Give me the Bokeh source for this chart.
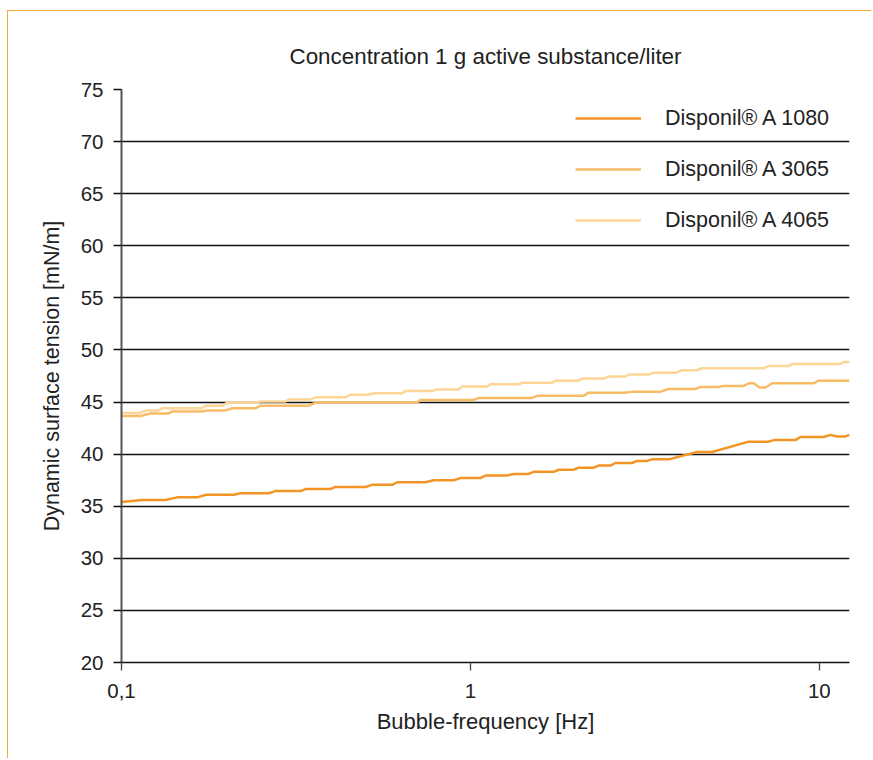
from bokeh.plotting import figure
from bokeh.models import FixedTicker, Legend, LegendItem, Title
from bokeh.embed import file_html
from bokeh.resources import INLINE

# ---- data ----
title_text = "Concentration 1 g active substance/liter"
x_label = "Bubble-frequency [Hz]"
y_label = "Dynamic surface tension [mN/m]"
series_names = ["Disponil® A 1080", "Disponil® A 3065", "Disponil® A 4065"]
series_colors = ["#F39426", "#F8BB66", "#FCD597"]

freq_1080 = [0.1, 0.1146, 0.1337, 0.1444, 0.1648, 0.1748, 0.2099, 0.2193, 0.2643, 0.2762,
             0.3258, 0.3367, 0.3971, 0.4104, 0.5, 0.5226, 0.5966, 0.6166, 0.7430, 0.7847,
             0.8955, 0.9361, 1.068, 1.104, 1.274, 1.331, 1.469, 1.518, 1.733, 1.791,
             1.977, 2.043, 2.256, 2.331, 2.518, 2.603, 2.906, 3.004, 3.208, 3.316,
             3.700, 4.463, 4.926, 6.272, 7.157, 7.398, 8.536, 8.823, 10.29, 10.75,
             11.24, 11.87, 12.21]
tension_1080 = [35.4, 35.6, 35.6, 35.85, 35.85, 36.1, 36.1, 36.25, 36.25, 36.45,
                36.45, 36.65, 36.65, 36.85, 36.85, 37.05, 37.05, 37.3, 37.3, 37.5,
                37.5, 37.7, 37.7, 37.95, 37.95, 38.1, 38.1, 38.3, 38.3, 38.5,
                38.5, 38.7, 38.7, 38.9, 38.9, 39.15, 39.15, 39.35, 39.35, 39.5,
                39.5, 40.2, 40.2, 41.2, 41.2, 41.35, 41.35, 41.65, 41.65, 41.85,
                41.7, 41.7, 41.85]

freq_3065 = [0.1, 0.1133, 0.1211, 0.1366, 0.1397, 0.1703, 0.1760, 0.1986, 0.2076, 0.2421,
             0.2502, 0.3441, 0.3596, 0.7037, 0.7191, 1.022, 1.056, 1.502, 1.553, 2.112,
             2.183, 2.750, 2.937, 3.503, 3.700, 4.413, 4.560, 5.146, 5.318, 6.069,
             6.272, 6.482, 6.744, 7.004, 7.320, 9.632, 9.955, 12.21]
tension_3065 = [43.65, 43.65, 43.9, 43.9, 44.1, 44.1, 44.2, 44.2, 44.4, 44.4,
                44.65, 44.65, 44.95, 44.95, 45.2, 45.2, 45.4, 45.4, 45.6, 45.6,
                45.9, 45.9, 46.0, 46.0, 46.25, 46.25, 46.45, 46.45, 46.55, 46.55,
                46.8, 46.8, 46.4, 46.4, 46.8, 46.8, 47.05, 47.05]

freq_4065 = [0.1, 0.1121, 0.1185, 0.1279, 0.1308, 0.1703, 0.1741, 0.1943, 0.2009, 0.2421,
             0.2502, 0.2951, 0.3016, 0.3479, 0.3596, 0.4384, 0.4531, 0.5058, 0.5342, 0.6372,
             0.6512, 0.7766, 0.8027, 0.9258, 0.9467, 1.116, 1.141, 1.375, 1.406, 1.714,
             1.752, 2.043, 2.090, 2.409, 2.490, 2.781, 2.842, 3.242, 3.351, 3.867,
             4.042, 4.463, 4.612, 6.925, 7.157, 8.166, 8.352, 11.49, 11.74, 12.21]
tension_4065 = [43.95, 43.95, 44.2, 44.2, 44.4, 44.4, 44.65, 44.65, 44.95, 44.95,
                45.05, 45.05, 45.25, 45.25, 45.45, 45.45, 45.7, 45.7, 45.85, 45.85,
                46.05, 46.05, 46.2, 46.2, 46.5, 46.5, 46.7, 46.7, 46.85, 46.85,
                47.05, 47.05, 47.25, 47.25, 47.45, 47.45, 47.65, 47.65, 47.8, 47.8,
                48.05, 48.05, 48.25, 48.25, 48.45, 48.45, 48.65, 48.65, 48.85, 48.85]

x_ticks = [0.1, 1, 10]
x_tick_labels = {0.1: "0,1", 1: "1", 10: "10"}
y_ticks = [20, 25, 30, 35, 40, 45, 50, 55, 60, 65, 70, 75]

FONT = "Liberation Sans"
TEXT = "#222222"

p = figure(width=864, height=748, x_axis_type="log",
           x_range=(0.1, 12.2), y_range=(20, 75),
           output_backend="svg", toolbar_location=None,
           min_border_left=113, min_border_right=23,
           min_border_top=78, min_border_bottom=97)
p.title = Title(text=title_text, align="center", text_font=FONT,
                text_font_size="22.4px", text_font_style="normal",
                text_color=TEXT, standoff=42)
p.outline_line_color = None
p.background_fill_color = "white"
p.border_fill_color = "white"
# orange page frame (top and left edges)
p.styles = {"margin-left": "7px", "margin-top": "10px",
            "border-top": "1.5px solid #F7A535", "border-left": "1.5px solid #F7A535"}

# grid
p.xgrid.grid_line_color = None
p.ygrid.grid_line_color = "#111111"
p.ygrid.grid_line_width = 1.3
p.ygrid.ticker = FixedTicker(ticks=y_ticks)

# axes
p.xaxis.ticker = FixedTicker(ticks=x_ticks, minor_ticks=[])
p.xaxis.major_label_overrides = x_tick_labels
p.xaxis.axis_line_color = "#111111"
p.xaxis.axis_line_width = 1.3
p.xaxis.major_tick_line_color = "#444444"
p.xaxis.major_tick_line_width = 1.3
p.xaxis.major_tick_out = 8
p.xaxis.major_tick_in = 0
p.xaxis.minor_tick_line_color = None
p.xaxis.major_label_standoff = 13

p.yaxis.ticker = FixedTicker(ticks=y_ticks, minor_ticks=[])
p.yaxis.axis_line_color = "#555555"
p.yaxis.axis_line_width = 2
p.yaxis.major_tick_line_color = "#111111"
p.yaxis.major_tick_line_width = 1.3
p.yaxis.major_tick_out = 8
p.yaxis.major_tick_in = 0
p.yaxis.minor_tick_line_color = None
p.yaxis.major_label_standoff = 10

for ax in (p.xaxis[0], p.yaxis[0]):
    ax.major_label_text_font = FONT
    ax.major_label_text_font_size = "20.5px"
    ax.major_label_text_color = TEXT
    ax.axis_label_text_font = FONT
    ax.axis_label_text_font_style = "normal"
    ax.axis_label_text_color = TEXT

p.xaxis.axis_label = x_label
p.xaxis.axis_label_text_font_size = "22px"
p.xaxis.axis_label_standoff = 8
p.yaxis.axis_label = y_label
p.yaxis.axis_label_text_font_size = "21.5px"
p.yaxis.axis_label_standoff = 14

# lines
r1 = p.line(freq_1080, tension_1080, line_color=series_colors[0], line_width=2.5)
r2 = p.line(freq_3065, tension_3065, line_color=series_colors[1], line_width=2.5)
r3 = p.line(freq_4065, tension_4065, line_color=series_colors[2], line_width=2.5)

legend = Legend(items=[LegendItem(label=series_names[0], renderers=[r1]),
                       LegendItem(label=series_names[1], renderers=[r2]),
                       LegendItem(label=series_names[2], renderers=[r3])],
                location=(454, 427), border_line_color=None,
                background_fill_alpha=0, padding=0, margin=0,
                glyph_width=66, glyph_height=30, spacing=21, label_standoff=24,
                label_text_font=FONT, label_text_font_size="21.5px",
                label_text_color=TEXT, label_height=30)
p.add_layout(legend)

open("out.html", "w").write(file_html(p, INLINE))
